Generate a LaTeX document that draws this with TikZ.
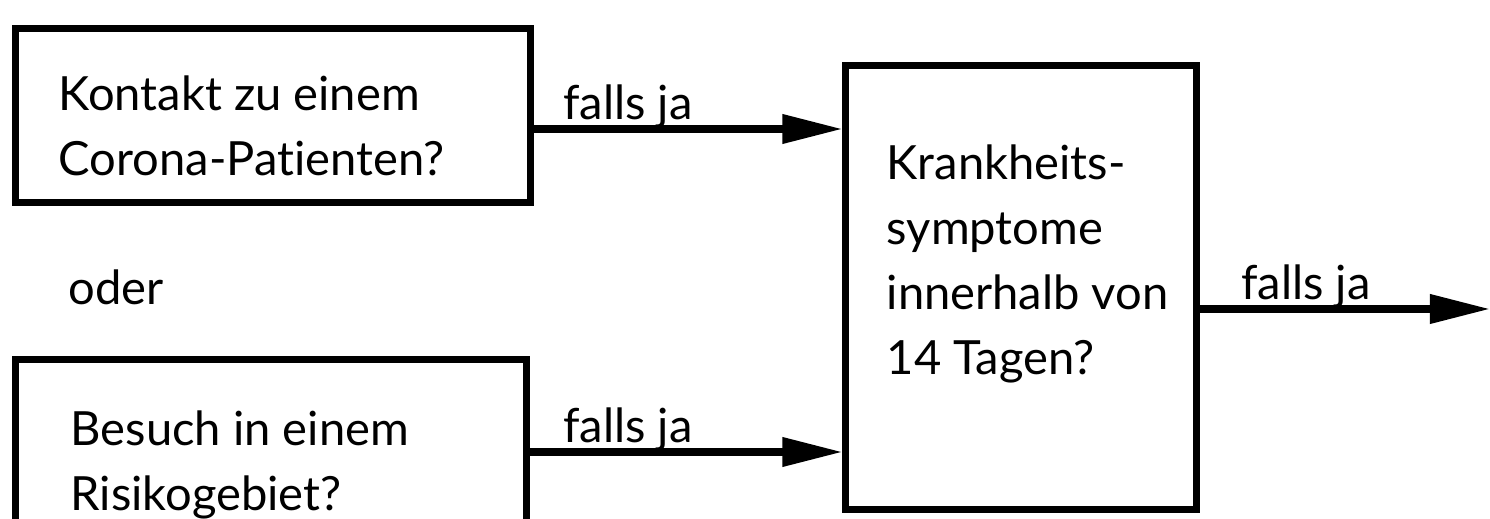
\documentclass[tikz,border=0pt]{standalone}
\usepackage{fontspec}
\setmainfont{Lato}[Ligatures=NoCommon]
\usetikzlibrary{arrows.meta,positioning}

\begin{document}
\begin{tikzpicture}[x=0.01cm,y=-0.01cm,
        box/.style={draw, line width=2pt, inner sep=0pt},
        txt/.style={anchor=base west, align=left, inner sep=0pt,
            font=\fontsize{13.4}{18.5}\selectfont},
        flow/.style={line width=2pt, -{Triangle[length=6mm,width=2.8mm]}}]
        \useasboundingbox (0,0) rectangle (1490,519);
        % the three question boxes
        \node[box, minimum width=5.14cm, minimum height=1.73cm] (kontakt) at (273,115.5) {};
        \node[box, minimum width=5.10cm, minimum height=1.84cm] (besuch) at (271,452) {};
        \node[box, minimum width=3.50cm, minimum height=4.43cm] (symptome) at (1021,287.5) {};
        \coordinate (ende) at (1490,309);
        % texts (anchored at the baseline of the last line)
        \node[txt] (kontakttext) at (58,176) {Kontakt zu einem\\Corona-Patienten?};
        \node[txt] (besuchtext) at (70,511) {Besuch in einem\\Risikogebiet?};
        \node[txt] (symptometext) at (886,375) {Krankheits-\\symptome\\innerhalb von\\14 Tagen?};
        \node[txt] (oder) at (68,305) {oder};
        % arrows
        \draw[flow] ([yshift=-0.135cm]kontakt.east) coordinate (k1) -- (k1 -| symptome.west)
            node[txt, pos=0, xshift=0.26cm, yshift=0.09cm] (ja1) {falls ja};
        \draw[flow] (besuch.east) -- (besuch.east -| symptome.west)
            node[txt, pos=0, xshift=0.30cm, yshift=0.09cm] (ja2) {falls ja};
        \draw[flow] (symptome.east |- ende) -- (ende)
            node[txt, pos=0, xshift=0.38cm, yshift=0.09cm] (ja3) {falls ja};
\end{tikzpicture}
\end{document}
